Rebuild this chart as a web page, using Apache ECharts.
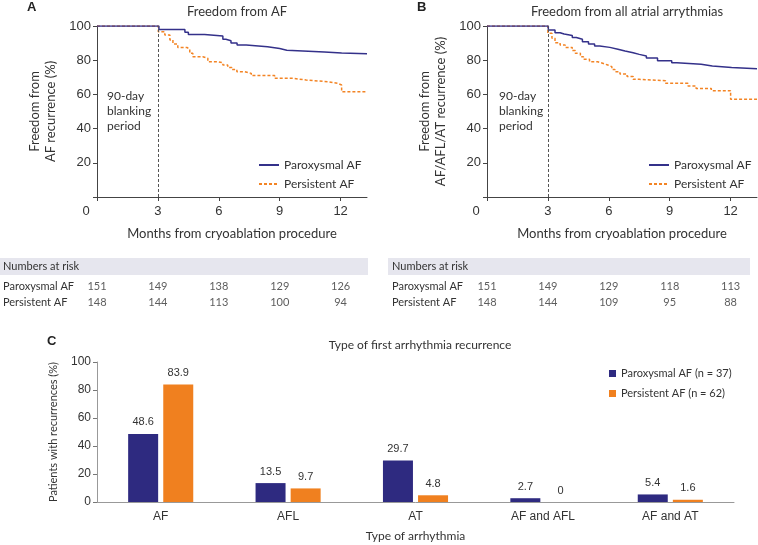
<!DOCTYPE html>
<html>
<head>
<meta charset="utf-8">
<script src="https://cdn.jsdelivr.net/npm/echarts@6/dist/echarts.min.js"></script>
<style>
  html, body { margin: 0; padding: 0; background: #fff; }
  #chart { width: 758px; height: 545px; }
</style>
</head>
<body>
<div id="chart"></div>
<script>
var endMonth = 13.3;
var monthTicks = [0, 3, 6, 9, 12];

// panel A: freedom from AF
var afParoxT = [0, 3.05, 4.33, 4.5, 5.3, 6.2, 6.35, 6.6, 6.9, 7.35, 8.4, 9.0, 9.35, 11.2, 12.05];
var afParoxS = [100, 98.0, 96.3, 95.1, 94.2, 92.2, 91.4, 90.1, 88.9, 87.9, 86.8, 85.8, 84.8, 84.2, 83.8];
var afPersT = [0, 3.02, 3.34, 3.59, 3.74, 3.98, 4.43, 4.57, 4.72, 5.21, 5.46, 5.95, 6.2, 6.44, 6.64, 6.89, 7.28, 7.6, 8.75, 9.65, 10.3, 11.4, 11.85, 12.05];
var afPersS = [100, 96.7, 94.7, 91.8, 89.5, 87.5, 86.4, 84.0, 82.0, 81.1, 79.1, 78.5, 77.2, 75.8, 74.6, 73.3, 72.3, 71.0, 69.4, 68.4, 67.4, 66.5, 65.5, 61.6];

// panel B: freedom from all atrial arrhythmias
var allParoxT = [0, 3.02, 3.35, 3.6, 3.8, 4.2, 4.4, 4.7, 5.0, 5.3, 5.55, 6.05, 6.45, 6.8, 7.2, 7.5, 7.85, 8.4, 9.1, 9.35, 10.55, 11.1, 12.05];
var allParoxS = [100, 97.7, 96.1, 95.3, 94.5, 93.3, 92.2, 90.8, 89.5, 88.3, 87.5, 86.4, 85.4, 84.4, 83.4, 82.5, 81.3, 79.7, 78.5, 77.6, 76.6, 75.8, 75.0];
var allPersT = [0, 3.0, 3.2, 3.35, 3.6, 3.85, 4.2, 4.35, 4.6, 4.75, 5.05, 5.45, 5.7, 5.95, 6.15, 6.3, 6.55, 6.9, 7.2, 7.5, 8.8, 9.9, 10.3, 11.05, 12.0];
var allPersS = [100, 95.7, 92.8, 90.2, 88.9, 87.5, 85.6, 84.0, 82.0, 80.5, 79.1, 78.2, 77.2, 76.2, 74.6, 73.3, 71.9, 70.4, 68.8, 68.0, 66.5, 64.9, 63.5, 62.2, 57.1];

// numbers at risk
var riskRows = ['Paroxysmal AF', 'Persistent AF'];
var riskA = [[151, 149, 138, 129, 126], [148, 144, 113, 100, 94]];
var riskB = [[151, 149, 129, 118, 113], [148, 144, 109, 95, 88]];

// panel C
var arrTypes = ['AF', 'AFL', 'AT', 'AF and AFL', 'AF and AT'];
var paroxPct = [48.6, 13.5, 29.7, 2.7, 5.4];
var persPct = [83.9, 9.7, 4.8, 0, 1.6];
var barNames = ['Paroxysmal AF (n = 37)', 'Persistent AF (n = 62)'];

var navy = '#34318a';
var orange = '#f38424';
var barNavy = '#2e2a80';
var barOrange = '#f0801f';
var txt = '#333';
var lato = 'Lato, "Noto Sans", sans-serif';
var arial = '"Liberation Sans", Arial, sans-serif';

function km(t, s) {
    var d = t.map(function (x, i) { return [x, s[i]]; });
    d.push([endMonth, s[s.length - 1]]);
    return d;
}

function riskData(tab) {
    var d = [];
    tab.forEach(function (row, r) {
        row.forEach(function (n, i) { d.push([monthTicks[i], r, n]); });
    });
    return d;
}

function kmX(idx) {
    return {
        type: 'value', gridIndex: idx, min: 0, max: endMonth,
        name: 'Months from cryoablation procedure', nameLocation: 'middle', nameGap: 30,
        nameTextStyle: { fontFamily: lato, fontSize: 13, color: txt },
        axisLine: { lineStyle: { color: '#444' } },
        axisTick: { show: true, length: 4, customValues: monthTicks, lineStyle: { color: '#444' } },
        axisLabel: {
            customValues: monthTicks, margin: 8, fontFamily: arial, fontSize: 13, color: txt,
            formatter: function (v) { return v === 0 ? '{z|0}' : v; },
            rich: { z: { padding: [0, 22, 0, 0], fontFamily: arial, fontSize: 13, color: txt } }
        },
        splitLine: { show: false }
    };
}

function kmY(idx, name) {
    return {
        type: 'value', gridIndex: idx, min: 0, max: 100, interval: 20,
        name: name, nameLocation: 'middle', nameGap: 38, nameRotate: 90,
        nameTextStyle: { fontFamily: lato, fontSize: 13, color: txt, lineHeight: 16 },
        axisLine: { show: true, lineStyle: { color: '#444' } },
        axisTick: { show: true, length: 4, lineStyle: { color: '#444' } },
        axisLabel: {
            margin: 6, fontFamily: arial, fontSize: 13, color: txt,
            formatter: function (v) { return v === 0 ? '' : v; }
        },
        splitLine: { show: false }
    };
}

function riskX(idx) {
    return { type: 'value', gridIndex: idx, min: 0, max: endMonth, show: false };
}

function riskY(idx, margin) {
    return {
        type: 'category', gridIndex: idx, data: riskRows, inverse: true,
        axisLine: { show: false }, axisTick: { show: false },
        axisLabel: { align: 'left', margin: margin, fontFamily: lato, fontSize: 11, color: txt }
    };
}

function kmLine(name, data, xi, color, dashed, blank) {
    var s = {
        name: name, type: 'line', xAxisIndex: xi, yAxisIndex: xi, data: data,
        step: 'end', symbol: 'none', showSymbol: false,
        lineStyle: { color: color, width: 1.5, type: dashed ? [3, 2] : 'solid' },
        itemStyle: { color: color },
        z: dashed ? 3 : 4
    };
    if (blank) {
        s.markLine = {
            silent: true, symbol: 'none', label: { show: false },
            lineStyle: { color: '#555', type: [3, 2], width: 1 },
            data: [{ xAxis: 3 }]
        };
    }
    return s;
}

function riskSeries(tab, gi) {
    return {
        type: 'scatter', xAxisIndex: gi, yAxisIndex: gi, symbolSize: 0,
        data: riskData(tab),
        label: {
            show: true, position: 'inside', fontFamily: lato, fontSize: 11, color: txt,
            formatter: function (p) { return p.value[2]; }
        }
    };
}

var chart = echarts.init(document.getElementById('chart'));

var legendText = { fontFamily: lato, fontSize: 12, color: txt };

function kmLegend(left) {
    return {
        data: riskRows, orient: 'vertical', left: left, top: 154, itemWidth: 20, itemHeight: 10,
        itemGap: 7, textStyle: legendText, itemStyle: { opacity: 0 }
    };
}

var option = {
    animation: false,
    title: [
        { text: 'Freedom from AF', left: 232, top: 0, textAlign: 'center',
          textStyle: { fontFamily: lato, fontSize: 13, fontWeight: 'normal', color: txt } },
        { text: 'Freedom from all atrial arrythmias', left: 622, top: 0, textAlign: 'center',
          textStyle: { fontFamily: lato, fontSize: 13, fontWeight: 'normal', color: txt } },
        { text: 'Type of first arrhythmia recurrence', left: 415, top: 334, textAlign: 'center',
          textStyle: { fontFamily: lato, fontSize: 12, fontWeight: 'normal', color: txt } }
    ],
    legend: [
        kmLegend(253),
        kmLegend(643),
        { data: barNames, orient: 'vertical', left: 604, top: 363, icon: 'rect', itemWidth: 7,
          itemHeight: 7, itemGap: 9, textStyle: { fontFamily: lato, fontSize: 11, color: txt } }
    ],
    grid: [
        { left: 97, top: 26, width: 270, height: 171 },
        { left: 487, top: 26, width: 270, height: 171 },
        { left: 97, top: 278, width: 270, height: 32 },
        { left: 487, top: 278, width: 270, height: 32 },
        { left: 97, top: 362, width: 637, height: 140 }
    ],
    xAxis: [
        kmX(0), kmX(1), riskX(2), riskX(3),
        {
            type: 'category', gridIndex: 4, data: arrTypes,
            name: 'Type of arrhythmia', nameLocation: 'middle', nameGap: 28,
            nameTextStyle: { fontFamily: lato, fontSize: 12, color: txt },
            axisLine: { lineStyle: { color: '#999' } },
            axisTick: { alignWithLabel: true, length: 3, lineStyle: { color: '#777' } },
            axisLabel: { margin: 9, fontFamily: arial, fontSize: 12, color: txt }
        }
    ],
    yAxis: [
        kmY(0, 'Freedom from\nAF recurrence (%)'),
        kmY(1, 'Freedom from\nAF/AFL/AT recurrence (%)'),
        riskY(2, 94), riskY(3, 95),
        {
            type: 'value', gridIndex: 4, min: 0, max: 100, interval: 20,
            name: 'Patients with recurrences (%)', nameLocation: 'middle', nameGap: 38, nameRotate: 90,
            nameTextStyle: { fontFamily: lato, fontSize: 11, color: txt },
            axisLine: { show: true, lineStyle: { color: '#999' } },
            axisTick: { show: true, length: 4, lineStyle: { color: '#777' } },
            axisLabel: { margin: 6, fontFamily: arial, fontSize: 12, color: txt },
            splitLine: { show: false }
        }
    ],
    graphic: [
        { type: 'text', left: 27, top: 1, style: { text: 'A', font: 'bold 13px ' + arial, fill: '#222' } },
        { type: 'text', left: 417, top: 1, style: { text: 'B', font: 'bold 13px ' + arial, fill: '#222' } },
        { type: 'text', left: 47, top: 335, style: { text: 'C', font: 'bold 13px ' + arial, fill: '#222' } },
        { type: 'text', left: 107, top: 89, style: { text: '90-day\nblanking\nperiod', font: '12px ' + lato, lineHeight: 15, fill: txt } },
        { type: 'text', left: 499, top: 89, style: { text: '90-day\nblanking\nperiod', font: '12px ' + lato, lineHeight: 15, fill: txt } },
        { type: 'rect', left: 0, top: 258, shape: { width: 368, height: 17 }, style: { fill: '#e6e6ee' }, z: -1 },
        { type: 'rect', left: 388, top: 258, shape: { width: 362, height: 17 }, style: { fill: '#e6e6ee' }, z: -1 },
        { type: 'text', left: 3, top: 261, style: { text: 'Numbers at risk', font: '11px ' + lato, fill: txt } },
        { type: 'text', left: 392, top: 261, style: { text: 'Numbers at risk', font: '11px ' + lato, fill: txt } }
    ],
    series: [
        kmLine('Persistent AF', km(afPersT, afPersS), 0, orange, true, true),
        kmLine('Paroxysmal AF', km(afParoxT, afParoxS), 0, navy, false, false),
        kmLine('Persistent AF', km(allPersT, allPersS), 1, orange, true, true),
        kmLine('Paroxysmal AF', km(allParoxT, allParoxS), 1, navy, false, false),
        riskSeries(riskA, 2),
        riskSeries(riskB, 3),
        {
            name: barNames[0], type: 'bar', xAxisIndex: 4, yAxisIndex: 4, data: paroxPct,
            barWidth: 30, barGap: '17%', itemStyle: { color: barNavy },
            label: { show: true, position: 'top', distance: 6, fontFamily: arial, fontSize: 11, color: txt }
        },
        {
            name: barNames[1], type: 'bar', xAxisIndex: 4, yAxisIndex: 4, data: persPct,
            barWidth: 30, barGap: '17%', itemStyle: { color: barOrange },
            label: { show: true, position: 'top', distance: 6, fontFamily: arial, fontSize: 11, color: txt }
        }
    ]
};

chart.setOption(option);
</script>
</body>
</html>
